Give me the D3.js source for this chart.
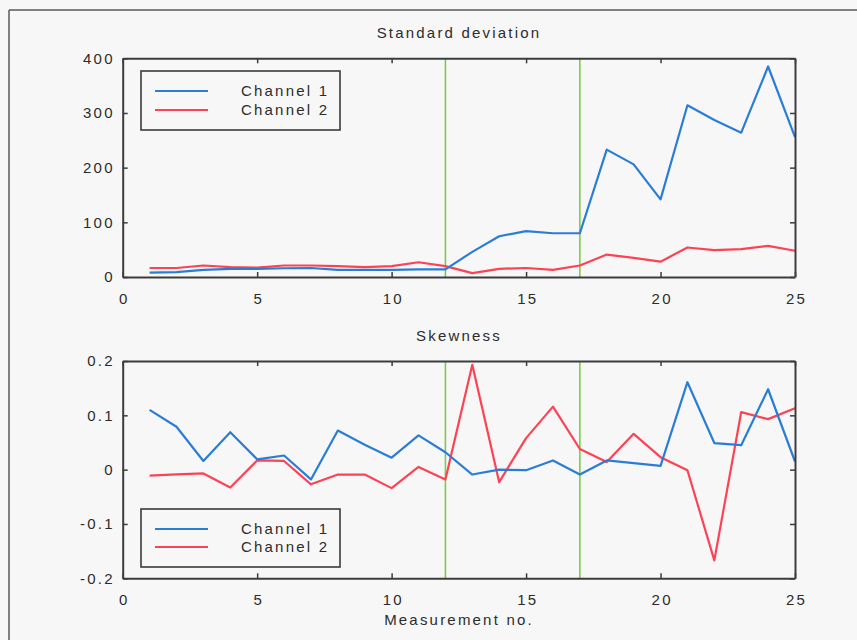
<!DOCTYPE html>
<html>
<head>
<meta charset="utf-8">
<script src="https://cdn.jsdelivr.net/npm/d3@7"></script>
<style>
  html, body { margin: 0; padding: 0; background: #f8f7f7; }
  svg { display: block; }
  text { font-family: "Liberation Sans", Arial, sans-serif; fill: #2c2c2c; }
</style>
</head>
<body>
<svg id="chart" width="857" height="640"></svg>
<script>
// Measurement numbers 1..25
const measurements = [1,2,3,4,5,6,7,8,9,10,11,12,13,14,15,16,17,18,19,20,21,22,23,24,25];

// Standard deviation per channel
const stdChannel1 = [8, 9, 13, 15, 15, 16, 16.5, 13, 13, 13, 14, 14, 46, 74.5, 84, 80, 80, 233, 206, 142, 314, 287, 264, 385, 256];
const stdChannel2 = [16.5, 16.5, 21, 18, 17, 21, 21, 20, 18, 20, 27, 20, 7, 15, 16.5, 13, 21, 41, 35, 28, 54, 49, 51, 57, 48];

// Skewness per channel
const skewChannel1 = [0.11, 0.079, 0.016, 0.069, 0.019, 0.026, -0.018, 0.072, 0.046, 0.022, 0.063, 0.032, -0.009, 0.0, -0.001, 0.017, -0.009, 0.017, 0.012, 0.007, 0.161, 0.049, 0.045, 0.148, 0.015];
const skewChannel2 = [-0.011, -0.0086, -0.007, -0.033, 0.017, 0.016, -0.027, -0.009, -0.009, -0.034, 0.005, -0.018, 0.193, -0.023, 0.058, 0.116, 0.038, 0.014, 0.066, 0.023, -0.001, -0.167, 0.106, 0.093, 0.113];

// Phase boundaries (vertical markers)
const boundaries = [12, 17];

// Axis ticks
const xTicks = [0, 5, 10, 15, 20, 25];
const xTickLabels = ["0", "5", "10", "15", "20", "25"];
const stdTicks = [0, 100, 200, 300, 400];
const stdTickLabels = ["0", "100", "200", "300", "400"];
const skewTicks = [-0.2, -0.1, 0, 0.1, 0.2];
const skewTickLabels = ["-0.2", "-0.1", "0", "0.1", "0.2"];

const seriesNames = ["Channel 1", "Channel 2"];
const colors = ["#2a7dd6", "#fb4354"];
const markerColor = "#7acb4e";
const axisColor = "#3c3c3c";
const FONT_SIZE = "15px";
const SPACING = "2.2px";

const svg = d3.select("#chart");

// Outer figure frame
svg.append("line").attr("x1", 9).attr("x2", 857).attr("y1", 10).attr("y2", 10)
  .attr("stroke", "#5a5a5a").attr("stroke-width", 1.5);
svg.append("line").attr("x1", 9).attr("x2", 9).attr("y1", 10).attr("y2", 640)
  .attr("stroke", "#5a5a5a").attr("stroke-width", 1.5);

const x = d3.scaleLinear().domain([0, 25]).range([122.7, 795]);

function styleText(sel) {
  return sel.attr("fill", "#2c2c2c")
    .style("font-family", '"Liberation Sans", Arial, sans-serif')
    .style("font-size", FONT_SIZE).style("letter-spacing", SPACING);
}

function panel(opts) {
  const { y, ticks, tickLabels, s1, s2, title, titleY, legend } = opts;
  const g = svg.append("g");
  const [y0, y1] = y.range();

  // markers
  g.selectAll("line.marker").data(boundaries).join("line")
    .attr("class", "marker")
    .attr("x1", d => x(d)).attr("x2", d => x(d))
    .attr("y1", y0).attr("y2", y1)
    .attr("stroke", markerColor).attr("stroke-width", 1.6);

  // data lines
  const line = d3.line().x((d, i) => x(measurements[i])).y(d => y(d));
  [s2, s1].forEach((s, k) => {
    g.append("path").datum(s)
      .attr("d", line)
      .attr("fill", "none")
      .attr("stroke", colors[1 - k])
      .attr("stroke-width", 2.2)
      .attr("stroke-linejoin", "round");
  });

  // axes with inward ticks on all four sides
  const fmtX = (d) => xTickLabels[xTicks.indexOf(d)];
  const fmtY = (d) => tickLabels[ticks.indexOf(d)];
  const bottom = g.append("g").attr("transform", `translate(0,${y0})`)
    .call(d3.axisBottom(x).tickValues(xTicks).tickFormat(fmtX).tickSizeInner(-5).tickSizeOuter(0).tickPadding(16));
  const top = g.append("g").attr("transform", `translate(0,${y1})`)
    .call(d3.axisTop(x).tickValues(xTicks).tickFormat("").tickSizeInner(-5).tickSizeOuter(0));
  const left = g.append("g").attr("transform", `translate(${x.range()[0]},0)`)
    .call(d3.axisLeft(y).tickValues(ticks).tickFormat(fmtY).tickSizeInner(-5).tickSizeOuter(0).tickPadding(8));
  const right = g.append("g").attr("transform", `translate(${x.range()[1]},0)`)
    .call(d3.axisRight(y).tickValues(ticks).tickFormat("").tickSizeInner(-5).tickSizeOuter(0));
  [bottom, top, left, right].forEach(a => {
    a.select(".domain").attr("stroke", axisColor).attr("stroke-width", 2);
    a.selectAll(".tick line").attr("stroke", axisColor).attr("stroke-width", 1.5);
    styleText(a.selectAll("text"));
  });
  // centre x labels despite trailing letter spacing
  bottom.selectAll("text").attr("dx", "1.1px");

  // title
  styleText(svg.append("text").attr("x", 459).attr("y", titleY)
    .attr("text-anchor", "middle")).text(title);

  // legend
  const lg = svg.append("g");
  lg.append("rect").attr("x", legend.x).attr("y", legend.y)
    .attr("width", 199).attr("height", legend.h)
    .attr("fill", "#f8f7f7").attr("stroke", "#3a3a3a").attr("stroke-width", 1.6);
  seriesNames.forEach((name, i) => {
    const ly = legend.rows[i];
    lg.append("line").attr("x1", legend.x + 14).attr("x2", legend.x + 67)
      .attr("y1", ly).attr("y2", ly)
      .attr("stroke", colors[i]).attr("stroke-width", 2);
    styleText(lg.append("text").attr("x", legend.x + 100).attr("y", ly + 5)).text(name);
  });
}

panel({
  y: d3.scaleLinear().domain([0, 400]).range([277, 58.3]),
  ticks: stdTicks, tickLabels: stdTickLabels,
  s1: stdChannel1, s2: stdChannel2,
  title: "Standard deviation", titleY: 38,
  legend: { x: 141, y: 71, h: 59, rows: [91, 110] }
});

panel({
  y: d3.scaleLinear().domain([-0.2, 0.2]).range([578.3, 361]),
  ticks: skewTicks, tickLabels: skewTickLabels,
  s1: skewChannel1, s2: skewChannel2,
  title: "Skewness", titleY: 341,
  legend: { x: 141, y: 509, h: 58, rows: [529, 547] }
});

styleText(svg.append("text").attr("x", 459).attr("y", 625)
  .attr("text-anchor", "middle")).text("Measurement no.");
</script>
</body>
</html>
